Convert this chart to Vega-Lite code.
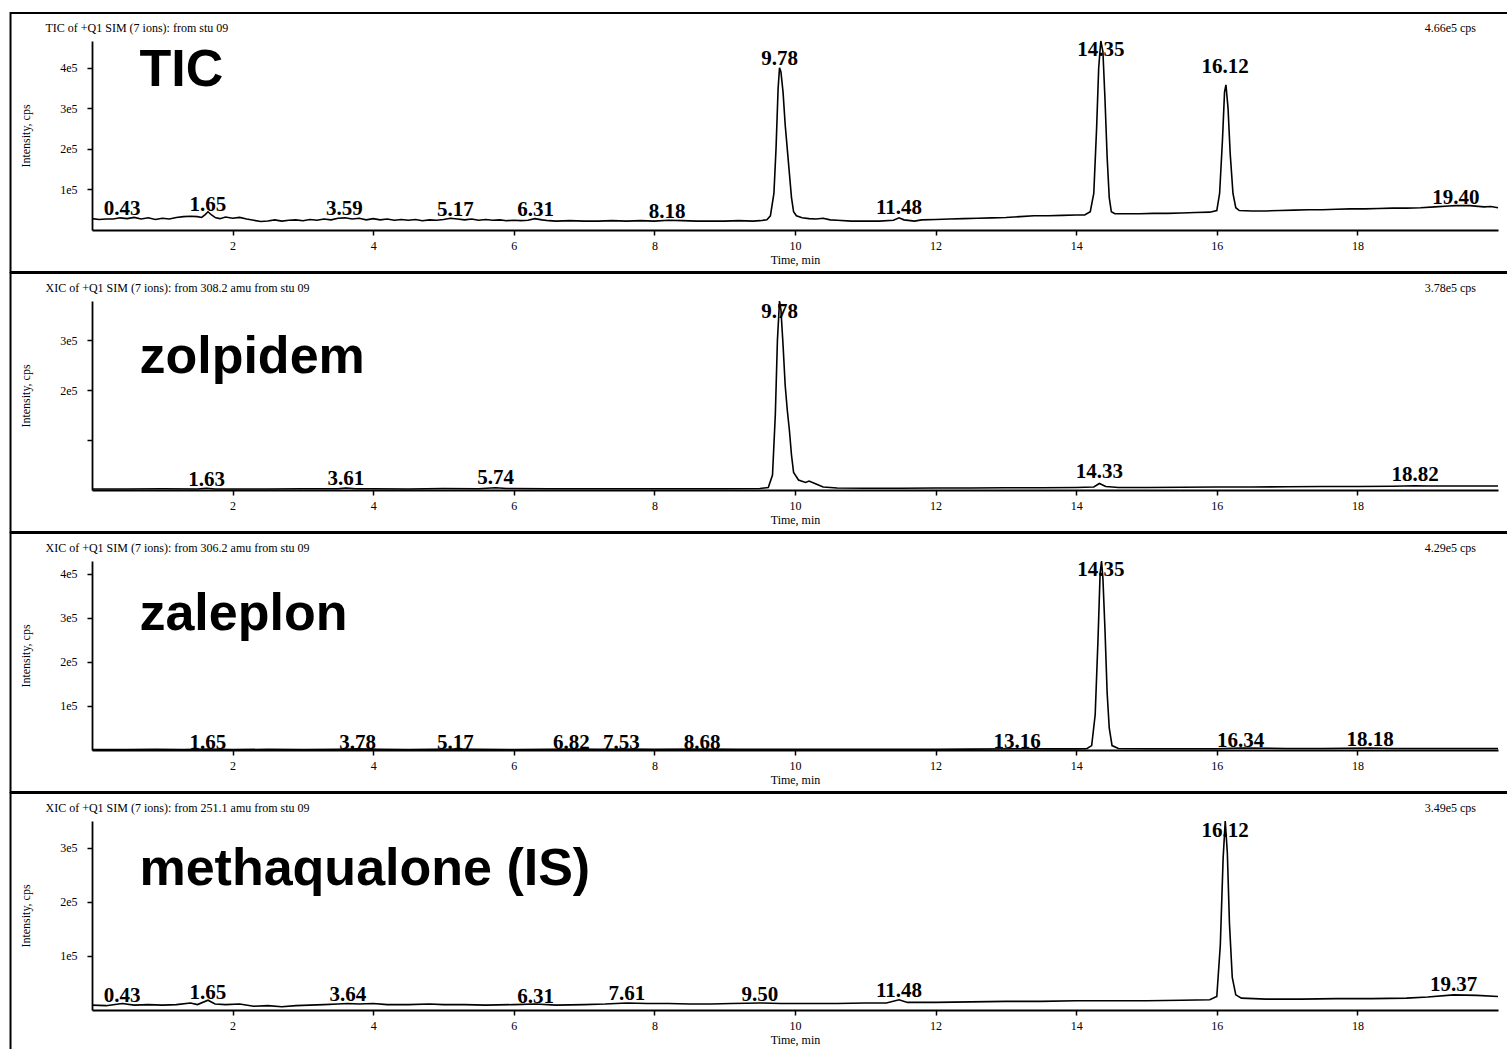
{
"$schema": "https://vega.github.io/schema/vega-lite/v6.json",
"padding": {"left": 9, "top": 12, "right": 0, "bottom": 0},
"background": "white",
"bounds": "flush",
"spacing": 71,
"config": {
  "view": {"stroke": null},
  "axis": {"domainColor": "black", "domainWidth": 1.8, "tickColor": "black", "tickWidth": 1.5, "tickSize": 5, "labelFont": "Liberation Serif", "labelFontSize": 12, "labelColor": "black", "titleFont": "Liberation Serif", "titleFontSize": 12, "titleFontWeight": "normal", "titleColor": "black", "grid": false},
  "axisX": {"labelPadding": 5, "titlePadding": 3},
  "axisY": {"labelPadding": 10, "titlePadding": 27}
},
"datasets": {
"trace": [
{"p":"TIC","t":0,"i":28000},{"p":"TIC","t":0.1,"i":26000},{"p":"TIC","t":0.2,"i":27000},{"p":"TIC","t":0.3,"i":27000},{"p":"TIC","t":0.4,"i":30000},{"p":"TIC","t":0.5,"i":28000},{"p":"TIC","t":0.6,"i":31000},{"p":"TIC","t":0.7,"i":27000},{"p":"TIC","t":0.8,"i":30000},{"p":"TIC","t":0.9,"i":26000},{"p":"TIC","t":1.0,"i":29000},{"p":"TIC","t":1.1,"i":27000},{"p":"TIC","t":1.2,"i":31000},{"p":"TIC","t":1.3,"i":33000},{"p":"TIC","t":1.4,"i":34000},{"p":"TIC","t":1.5,"i":33000},{"p":"TIC","t":1.56,"i":31000},{"p":"TIC","t":1.61,"i":38000},{"p":"TIC","t":1.65,"i":45000},{"p":"TIC","t":1.7,"i":37000},{"p":"TIC","t":1.76,"i":30000},{"p":"TIC","t":1.82,"i":28000},{"p":"TIC","t":1.9,"i":32000},{"p":"TIC","t":2.0,"i":29000},{"p":"TIC","t":2.1,"i":31000},{"p":"TIC","t":2.2,"i":27000},{"p":"TIC","t":2.3,"i":24000},{"p":"TIC","t":2.4,"i":21000},{"p":"TIC","t":2.5,"i":22000},{"p":"TIC","t":2.6,"i":25000},{"p":"TIC","t":2.7,"i":22000},{"p":"TIC","t":2.8,"i":24000},{"p":"TIC","t":2.9,"i":25000},{"p":"TIC","t":3.0,"i":23000},{"p":"TIC","t":3.1,"i":26000},{"p":"TIC","t":3.2,"i":24000},{"p":"TIC","t":3.3,"i":27000},{"p":"TIC","t":3.4,"i":25000},{"p":"TIC","t":3.5,"i":29000},{"p":"TIC","t":3.6,"i":30000},{"p":"TIC","t":3.7,"i":27000},{"p":"TIC","t":3.8,"i":29000},{"p":"TIC","t":3.9,"i":25000},{"p":"TIC","t":4.0,"i":28000},{"p":"TIC","t":4.1,"i":25000},{"p":"TIC","t":4.2,"i":27000},{"p":"TIC","t":4.3,"i":24000},{"p":"TIC","t":4.4,"i":26000},{"p":"TIC","t":4.5,"i":24000},{"p":"TIC","t":4.6,"i":26000},{"p":"TIC","t":4.7,"i":23000},{"p":"TIC","t":4.8,"i":25000},{"p":"TIC","t":4.9,"i":24000},{"p":"TIC","t":5.0,"i":26000},{"p":"TIC","t":5.1,"i":29000},{"p":"TIC","t":5.2,"i":27000},{"p":"TIC","t":5.3,"i":25000},{"p":"TIC","t":5.4,"i":27000},{"p":"TIC","t":5.5,"i":24000},{"p":"TIC","t":5.6,"i":26000},{"p":"TIC","t":5.7,"i":24000},{"p":"TIC","t":5.8,"i":25000},{"p":"TIC","t":5.9,"i":23000},{"p":"TIC","t":6.0,"i":24000},{"p":"TIC","t":6.1,"i":23000},{"p":"TIC","t":6.2,"i":24000},{"p":"TIC","t":6.3,"i":28000},{"p":"TIC","t":6.4,"i":25000},{"p":"TIC","t":6.5,"i":23000},{"p":"TIC","t":6.6,"i":22000},{"p":"TIC","t":6.8,"i":23000},{"p":"TIC","t":7.0,"i":22000},{"p":"TIC","t":7.2,"i":22000},{"p":"TIC","t":7.4,"i":23000},{"p":"TIC","t":7.6,"i":22000},{"p":"TIC","t":7.8,"i":23000},{"p":"TIC","t":8.0,"i":22000},{"p":"TIC","t":8.2,"i":24000},{"p":"TIC","t":8.4,"i":23000},{"p":"TIC","t":8.6,"i":22000},{"p":"TIC","t":8.8,"i":22000},{"p":"TIC","t":9.0,"i":22000},{"p":"TIC","t":9.2,"i":23000},{"p":"TIC","t":9.4,"i":22000},{"p":"TIC","t":9.5,"i":23000},{"p":"TIC","t":9.6,"i":25000},{"p":"TIC","t":9.65,"i":35000},{"p":"TIC","t":9.7,"i":90000},{"p":"TIC","t":9.73,"i":200000},{"p":"TIC","t":9.76,"i":350000},{"p":"TIC","t":9.78,"i":400000},{"p":"TIC","t":9.8,"i":390000},{"p":"TIC","t":9.83,"i":340000},{"p":"TIC","t":9.86,"i":260000},{"p":"TIC","t":9.89,"i":200000},{"p":"TIC","t":9.92,"i":140000},{"p":"TIC","t":9.95,"i":80000},{"p":"TIC","t":9.98,"i":45000},{"p":"TIC","t":10.02,"i":35000},{"p":"TIC","t":10.1,"i":30000},{"p":"TIC","t":10.2,"i":28000},{"p":"TIC","t":10.3,"i":27000},{"p":"TIC","t":10.4,"i":29000},{"p":"TIC","t":10.5,"i":25000},{"p":"TIC","t":10.6,"i":24000},{"p":"TIC","t":10.8,"i":22000},{"p":"TIC","t":11.0,"i":22000},{"p":"TIC","t":11.2,"i":22000},{"p":"TIC","t":11.4,"i":24000},{"p":"TIC","t":11.48,"i":30000},{"p":"TIC","t":11.55,"i":25000},{"p":"TIC","t":11.7,"i":22000},{"p":"TIC","t":11.8,"i":25000},{"p":"TIC","t":12.0,"i":26000},{"p":"TIC","t":12.2,"i":27000},{"p":"TIC","t":12.4,"i":28000},{"p":"TIC","t":12.6,"i":29000},{"p":"TIC","t":12.8,"i":30000},{"p":"TIC","t":13.0,"i":31000},{"p":"TIC","t":13.2,"i":33000},{"p":"TIC","t":13.4,"i":35000},{"p":"TIC","t":13.6,"i":35000},{"p":"TIC","t":13.8,"i":36000},{"p":"TIC","t":14.0,"i":37000},{"p":"TIC","t":14.12,"i":37000},{"p":"TIC","t":14.2,"i":45000},{"p":"TIC","t":14.25,"i":90000},{"p":"TIC","t":14.29,"i":250000},{"p":"TIC","t":14.32,"i":400000},{"p":"TIC","t":14.35,"i":466000},{"p":"TIC","t":14.38,"i":440000},{"p":"TIC","t":14.41,"i":320000},{"p":"TIC","t":14.44,"i":180000},{"p":"TIC","t":14.47,"i":80000},{"p":"TIC","t":14.5,"i":45000},{"p":"TIC","t":14.55,"i":40000},{"p":"TIC","t":14.7,"i":40000},{"p":"TIC","t":14.9,"i":40000},{"p":"TIC","t":15.1,"i":41000},{"p":"TIC","t":15.3,"i":41000},{"p":"TIC","t":15.5,"i":42000},{"p":"TIC","t":15.7,"i":43000},{"p":"TIC","t":15.9,"i":44000},{"p":"TIC","t":16.0,"i":48000},{"p":"TIC","t":16.04,"i":90000},{"p":"TIC","t":16.08,"i":220000},{"p":"TIC","t":16.11,"i":340000},{"p":"TIC","t":16.13,"i":358000},{"p":"TIC","t":16.16,"i":300000},{"p":"TIC","t":16.19,"i":190000},{"p":"TIC","t":16.23,"i":90000},{"p":"TIC","t":16.27,"i":55000},{"p":"TIC","t":16.32,"i":48000},{"p":"TIC","t":16.5,"i":47000},{"p":"TIC","t":16.7,"i":47000},{"p":"TIC","t":16.9,"i":48000},{"p":"TIC","t":17.1,"i":49000},{"p":"TIC","t":17.3,"i":50000},{"p":"TIC","t":17.5,"i":50000},{"p":"TIC","t":17.7,"i":51000},{"p":"TIC","t":17.9,"i":52000},{"p":"TIC","t":18.1,"i":52000},{"p":"TIC","t":18.3,"i":53000},{"p":"TIC","t":18.5,"i":54000},{"p":"TIC","t":18.7,"i":54000},{"p":"TIC","t":18.9,"i":55000},{"p":"TIC","t":19.1,"i":57000},{"p":"TIC","t":19.3,"i":59000},{"p":"TIC","t":19.4,"i":60000},{"p":"TIC","t":19.6,"i":60000},{"p":"TIC","t":19.8,"i":57000},{"p":"TIC","t":19.9,"i":58000},{"p":"TIC","t":20.0,"i":55000},
{"p":"ZOL","t":0,"i":2000},{"p":"ZOL","t":0.5,"i":2000},{"p":"ZOL","t":1.0,"i":2500},{"p":"ZOL","t":1.5,"i":2000},{"p":"ZOL","t":1.63,"i":3500},{"p":"ZOL","t":1.75,"i":2000},{"p":"ZOL","t":2.0,"i":2000},{"p":"ZOL","t":2.5,"i":2000},{"p":"ZOL","t":3.0,"i":2500},{"p":"ZOL","t":3.5,"i":2500},{"p":"ZOL","t":3.61,"i":4000},{"p":"ZOL","t":3.75,"i":2500},{"p":"ZOL","t":4.0,"i":2500},{"p":"ZOL","t":4.5,"i":2000},{"p":"ZOL","t":5.0,"i":3000},{"p":"ZOL","t":5.5,"i":2500},{"p":"ZOL","t":5.74,"i":4500},{"p":"ZOL","t":5.9,"i":3000},{"p":"ZOL","t":6.0,"i":3000},{"p":"ZOL","t":6.5,"i":2500},{"p":"ZOL","t":7.0,"i":2500},{"p":"ZOL","t":7.5,"i":2500},{"p":"ZOL","t":8.0,"i":2500},{"p":"ZOL","t":8.5,"i":2500},{"p":"ZOL","t":9.0,"i":2500},{"p":"ZOL","t":9.5,"i":3000},{"p":"ZOL","t":9.62,"i":5000},{"p":"ZOL","t":9.68,"i":30000},{"p":"ZOL","t":9.72,"i":150000},{"p":"ZOL","t":9.75,"i":300000},{"p":"ZOL","t":9.78,"i":378000},{"p":"ZOL","t":9.8,"i":360000},{"p":"ZOL","t":9.83,"i":290000},{"p":"ZOL","t":9.86,"i":210000},{"p":"ZOL","t":9.89,"i":160000},{"p":"ZOL","t":9.92,"i":120000},{"p":"ZOL","t":9.95,"i":70000},{"p":"ZOL","t":9.98,"i":35000},{"p":"ZOL","t":10.05,"i":20000},{"p":"ZOL","t":10.15,"i":15000},{"p":"ZOL","t":10.2,"i":18000},{"p":"ZOL","t":10.3,"i":12000},{"p":"ZOL","t":10.4,"i":6000},{"p":"ZOL","t":10.6,"i":4000},{"p":"ZOL","t":11.0,"i":3500},{"p":"ZOL","t":11.5,"i":3500},{"p":"ZOL","t":12.0,"i":4000},{"p":"ZOL","t":12.5,"i":4000},{"p":"ZOL","t":13.0,"i":4500},{"p":"ZOL","t":13.5,"i":4500},{"p":"ZOL","t":14.0,"i":5000},{"p":"ZOL","t":14.25,"i":6000},{"p":"ZOL","t":14.33,"i":13000},{"p":"ZOL","t":14.42,"i":7000},{"p":"ZOL","t":14.6,"i":5000},{"p":"ZOL","t":15.0,"i":5000},{"p":"ZOL","t":15.5,"i":5500},{"p":"ZOL","t":16.0,"i":6000},{"p":"ZOL","t":16.5,"i":6000},{"p":"ZOL","t":17.0,"i":6500},{"p":"ZOL","t":17.5,"i":7000},{"p":"ZOL","t":18.0,"i":7000},{"p":"ZOL","t":18.5,"i":7500},{"p":"ZOL","t":18.82,"i":8500},{"p":"ZOL","t":19.0,"i":8000},{"p":"ZOL","t":19.5,"i":8000},{"p":"ZOL","t":20.0,"i":8000},
{"p":"ZAL","t":0,"i":1000},{"p":"ZAL","t":0.5,"i":1000},{"p":"ZAL","t":0.9,"i":1500},{"p":"ZAL","t":1.3,"i":1000},{"p":"ZAL","t":1.65,"i":2000},{"p":"ZAL","t":2.0,"i":1000},{"p":"ZAL","t":2.5,"i":1500},{"p":"ZAL","t":3.0,"i":1000},{"p":"ZAL","t":3.5,"i":1500},{"p":"ZAL","t":3.78,"i":2500},{"p":"ZAL","t":4.1,"i":1500},{"p":"ZAL","t":4.5,"i":1000},{"p":"ZAL","t":5.17,"i":2000},{"p":"ZAL","t":5.5,"i":1500},{"p":"ZAL","t":6.0,"i":1000},{"p":"ZAL","t":6.5,"i":1500},{"p":"ZAL","t":6.82,"i":2000},{"p":"ZAL","t":7.2,"i":1500},{"p":"ZAL","t":7.53,"i":2000},{"p":"ZAL","t":8.0,"i":1500},{"p":"ZAL","t":8.68,"i":2000},{"p":"ZAL","t":9.2,"i":1500},{"p":"ZAL","t":9.8,"i":1500},{"p":"ZAL","t":10.5,"i":1500},{"p":"ZAL","t":11.0,"i":1500},{"p":"ZAL","t":11.5,"i":1500},{"p":"ZAL","t":12.0,"i":1500},{"p":"ZAL","t":12.5,"i":2000},{"p":"ZAL","t":13.16,"i":3000},{"p":"ZAL","t":13.6,"i":2500},{"p":"ZAL","t":14.0,"i":2500},{"p":"ZAL","t":14.15,"i":3000},{"p":"ZAL","t":14.22,"i":10000},{"p":"ZAL","t":14.27,"i":80000},{"p":"ZAL","t":14.31,"i":250000},{"p":"ZAL","t":14.34,"i":400000},{"p":"ZAL","t":14.36,"i":429000},{"p":"ZAL","t":14.38,"i":390000},{"p":"ZAL","t":14.41,"i":270000},{"p":"ZAL","t":14.44,"i":130000},{"p":"ZAL","t":14.47,"i":50000},{"p":"ZAL","t":14.51,"i":10000},{"p":"ZAL","t":14.6,"i":3500},{"p":"ZAL","t":15.0,"i":3000},{"p":"ZAL","t":15.5,"i":3000},{"p":"ZAL","t":16.0,"i":3000},{"p":"ZAL","t":16.34,"i":4500},{"p":"ZAL","t":17.0,"i":3500},{"p":"ZAL","t":17.5,"i":3500},{"p":"ZAL","t":18.18,"i":4500},{"p":"ZAL","t":18.5,"i":3500},{"p":"ZAL","t":19.0,"i":3500},{"p":"ZAL","t":19.5,"i":3500},{"p":"ZAL","t":20.0,"i":3500},
{"p":"MET","t":0,"i":9000},{"p":"MET","t":0.2,"i":8000},{"p":"MET","t":0.43,"i":12000},{"p":"MET","t":0.6,"i":9000},{"p":"MET","t":0.8,"i":10000},{"p":"MET","t":1.0,"i":9000},{"p":"MET","t":1.2,"i":10000},{"p":"MET","t":1.4,"i":13000},{"p":"MET","t":1.5,"i":10000},{"p":"MET","t":1.65,"i":18000},{"p":"MET","t":1.75,"i":11000},{"p":"MET","t":1.9,"i":10000},{"p":"MET","t":2.1,"i":11000},{"p":"MET","t":2.3,"i":7000},{"p":"MET","t":2.5,"i":8000},{"p":"MET","t":2.7,"i":6000},{"p":"MET","t":2.9,"i":8000},{"p":"MET","t":3.1,"i":9000},{"p":"MET","t":3.3,"i":10000},{"p":"MET","t":3.5,"i":11000},{"p":"MET","t":3.64,"i":12000},{"p":"MET","t":3.8,"i":11000},{"p":"MET","t":4.0,"i":12000},{"p":"MET","t":4.2,"i":10000},{"p":"MET","t":4.5,"i":10000},{"p":"MET","t":4.8,"i":11000},{"p":"MET","t":5.0,"i":10000},{"p":"MET","t":5.3,"i":10000},{"p":"MET","t":5.6,"i":9000},{"p":"MET","t":6.0,"i":10000},{"p":"MET","t":6.31,"i":11000},{"p":"MET","t":6.6,"i":9000},{"p":"MET","t":7.0,"i":10000},{"p":"MET","t":7.3,"i":11000},{"p":"MET","t":7.61,"i":13000},{"p":"MET","t":7.9,"i":12000},{"p":"MET","t":8.2,"i":12000},{"p":"MET","t":8.5,"i":11000},{"p":"MET","t":8.8,"i":11000},{"p":"MET","t":9.1,"i":12000},{"p":"MET","t":9.5,"i":13000},{"p":"MET","t":9.8,"i":12000},{"p":"MET","t":10.2,"i":12000},{"p":"MET","t":10.6,"i":12000},{"p":"MET","t":11.0,"i":13000},{"p":"MET","t":11.3,"i":13000},{"p":"MET","t":11.48,"i":19000},{"p":"MET","t":11.6,"i":14000},{"p":"MET","t":12.0,"i":14000},{"p":"MET","t":12.5,"i":15000},{"p":"MET","t":13.0,"i":16000},{"p":"MET","t":13.5,"i":16000},{"p":"MET","t":14.0,"i":17000},{"p":"MET","t":14.5,"i":17000},{"p":"MET","t":15.0,"i":17000},{"p":"MET","t":15.5,"i":18000},{"p":"MET","t":15.9,"i":19000},{"p":"MET","t":16.0,"i":25000},{"p":"MET","t":16.05,"i":120000},{"p":"MET","t":16.09,"i":280000},{"p":"MET","t":16.12,"i":349000},{"p":"MET","t":16.15,"i":290000},{"p":"MET","t":16.18,"i":160000},{"p":"MET","t":16.22,"i":60000},{"p":"MET","t":16.27,"i":28000},{"p":"MET","t":16.35,"i":22000},{"p":"MET","t":16.7,"i":20000},{"p":"MET","t":17.2,"i":20000},{"p":"MET","t":17.7,"i":21000},{"p":"MET","t":18.2,"i":21000},{"p":"MET","t":18.7,"i":22000},{"p":"MET","t":19.0,"i":24000},{"p":"MET","t":19.37,"i":28000},{"p":"MET","t":19.7,"i":27000},{"p":"MET","t":20.0,"i":25000}
],
"peaks": [
{"p":"TIC","t":0.43,"i":37000,"label":"0.43"},{"p":"TIC","t":1.65,"i":47000,"label":"1.65"},{"p":"TIC","t":3.59,"i":37000,"label":"3.59"},{"p":"TIC","t":5.17,"i":34500,"label":"5.17"},{"p":"TIC","t":6.31,"i":34500,"label":"6.31"},{"p":"TIC","t":8.18,"i":30000,"label":"8.18"},{"p":"TIC","t":9.78,"i":407000,"label":"9.78"},{"p":"TIC","t":11.48,"i":39000,"label":"11.48"},{"p":"TIC","t":14.35,"i":429000,"label":"14.35"},{"p":"TIC","t":16.12,"i":387000,"label":"16.12"},{"p":"TIC","t":19.40,"i":64000,"label":"19.40"},
{"p":"ZOL","t":1.63,"i":8000,"label":"1.63"},{"p":"ZOL","t":3.61,"i":10000,"label":"3.61"},{"p":"ZOL","t":5.74,"i":12000,"label":"5.74"},{"p":"ZOL","t":9.78,"i":344000,"label":"9.78"},{"p":"ZOL","t":14.33,"i":24000,"label":"14.33"},{"p":"ZOL","t":18.82,"i":18000,"label":"18.82"},
{"p":"ZAL","t":1.65,"i":1500,"label":"1.65"},{"p":"ZAL","t":3.78,"i":1500,"label":"3.78"},{"p":"ZAL","t":5.17,"i":1500,"label":"5.17"},{"p":"ZAL","t":6.82,"i":2500,"label":"6.82"},{"p":"ZAL","t":7.53,"i":1500,"label":"7.53"},{"p":"ZAL","t":8.68,"i":1500,"label":"8.68"},{"p":"ZAL","t":13.16,"i":5000,"label":"13.16"},{"p":"ZAL","t":14.35,"i":395000,"label":"14.35"},{"p":"ZAL","t":16.34,"i":7000,"label":"16.34"},{"p":"ZAL","t":18.18,"i":9000,"label":"18.18"},
{"p":"MET","t":0.43,"i":15000,"label":"0.43"},{"p":"MET","t":1.65,"i":21000,"label":"1.65"},{"p":"MET","t":3.64,"i":16000,"label":"3.64"},{"p":"MET","t":6.31,"i":13000,"label":"6.31"},{"p":"MET","t":7.61,"i":18000,"label":"7.61"},{"p":"MET","t":9.50,"i":16000,"label":"9.50"},{"p":"MET","t":11.48,"i":24000,"label":"11.48"},{"p":"MET","t":16.12,"i":320000,"label":"16.12"},{"p":"MET","t":19.37,"i":35000,"label":"19.37"}
]
},
"vconcat": [
{
 "width": 1406, "height": 189,
 "layer": [
  {"data": {"values": [{"p": "TIC"}]}, "mark": {"type": "rect", "fillOpacity": 0, "stroke": "black", "strokeWidth": 2},
   "encoding": {"x": {"datum": -1.159, "type": "quantitative", "scale": {"domain": [0, 20], "nice": false, "zero": false}}, "x2": {"datum": 20.2},
                "y": {"datum": -103556, "type": "quantitative", "scale": {"domain": [0, 466000], "nice": false}}, "y2": {"datum": 535026}}},
  {"data": {"name": "trace"}, "transform": [{"filter": "datum.p === 'TIC'"}], "mark": {"type": "line", "color": "black", "strokeWidth": 1.6},
   "encoding": {"x": {"field": "t", "type": "quantitative", "scale": {"domain": [0, 20], "nice": false, "zero": false}, "axis": {"values": [2,4,6,8,10,12,14,16,18], "format": "d", "title": "Time, min"}},
                "y": {"field": "i", "type": "quantitative", "scale": {"domain": [0, 466000], "nice": false}, "axis": {"values": [100000,200000,300000,400000], "labelExpr": "(datum.value/100000) + 'e5'", "title": "Intensity, cps"}}}},
  {"data": {"name": "peaks"}, "transform": [{"filter": "datum.p === 'TIC'"}], "mark": {"type": "text", "font": "Liberation Serif", "fontWeight": "bold", "fontSize": 21, "baseline": "alphabetic", "align": "center", "color": "black"},
   "encoding": {"x": {"field": "t", "type": "quantitative", "scale": {"domain": [0, 20], "nice": false, "zero": false}},
                "y": {"field": "i", "type": "quantitative", "scale": {"domain": [0, 466000], "nice": false}}, "text": {"field": "label"}}},
  {"data": {"values": [{"p": "TIC"}]}, "mark": {"type": "text", "text": "TIC", "font": "Liberation Sans", "fontWeight": "bold", "fontSize": 52, "align": "left", "baseline": "alphabetic", "color": "black"},
   "encoding": {"x": {"datum": 0.675, "type": "quantitative", "scale": {"domain": [0, 20], "nice": false, "zero": false}},
                "y": {"datum": 355000, "type": "quantitative", "scale": {"domain": [0, 466000], "nice": false}}}},
  {"data": {"values": [{"p": "TIC"}]}, "mark": {"type": "text", "text": "4.66e5 cps", "font": "Liberation Serif", "fontSize": 12, "align": "right", "baseline": "middle", "dx": -22, "dy": -13, "color": "black"},
   "encoding": {"x": {"datum": 20, "type": "quantitative", "scale": {"domain": [0, 20], "nice": false, "zero": false}},
                "y": {"datum": 466000, "type": "quantitative", "scale": {"domain": [0, 466000], "nice": false}}}},
  {"data": {"values": [{"p": "TIC"}]}, "mark": {"type": "text", "text": "TIC of +Q1 SIM (7 ions): from stu 09", "font": "Liberation Serif", "fontSize": 12, "align": "left", "baseline": "middle", "dx": -46.5, "dy": -13, "color": "black"},
   "encoding": {"x": {"datum": 0, "type": "quantitative", "scale": {"domain": [0, 20], "nice": false, "zero": false}},
                "y": {"datum": 466000, "type": "quantitative", "scale": {"domain": [0, 466000], "nice": false}}}}
 ]
},
{
 "width": 1406, "height": 189,
 "layer": [
  {"data": {"values": [{"p": "ZOL"}]}, "mark": {"type": "rect", "fillOpacity": 0, "stroke": "black", "strokeWidth": 2},
   "encoding": {"x": {"datum": -1.159, "type": "quantitative", "scale": {"domain": [0, 20], "nice": false, "zero": false}}, "x2": {"datum": 20.2},
                "y": {"datum": -84000, "type": "quantitative", "scale": {"domain": [0, 378000], "nice": false}}, "y2": {"datum": 433978}}},
  {"data": {"name": "trace"}, "transform": [{"filter": "datum.p === 'ZOL'"}], "mark": {"type": "line", "color": "black", "strokeWidth": 1.6},
   "encoding": {"x": {"field": "t", "type": "quantitative", "scale": {"domain": [0, 20], "nice": false, "zero": false}, "axis": {"values": [2,4,6,8,10,12,14,16,18], "format": "d", "title": "Time, min"}},
                "y": {"field": "i", "type": "quantitative", "scale": {"domain": [0, 378000], "nice": false}, "axis": {"values": [100000,200000,300000], "labelExpr": "datum.value == 100000 ? '' : (datum.value/100000) + 'e5'", "title": "Intensity, cps"}}}},
  {"data": {"name": "peaks"}, "transform": [{"filter": "datum.p === 'ZOL'"}], "mark": {"type": "text", "font": "Liberation Serif", "fontWeight": "bold", "fontSize": 21, "baseline": "alphabetic", "align": "center", "color": "black"},
   "encoding": {"x": {"field": "t", "type": "quantitative", "scale": {"domain": [0, 20], "nice": false, "zero": false}},
                "y": {"field": "i", "type": "quantitative", "scale": {"domain": [0, 378000], "nice": false}}, "text": {"field": "label"}}},
  {"data": {"values": [{"p": "ZOL"}]}, "mark": {"type": "text", "text": "zolpidem", "font": "Liberation Sans", "fontWeight": "bold", "fontSize": 52, "align": "left", "baseline": "alphabetic", "color": "black"},
   "encoding": {"x": {"datum": 0.675, "type": "quantitative", "scale": {"domain": [0, 20], "nice": false, "zero": false}},
                "y": {"datum": 234000, "type": "quantitative", "scale": {"domain": [0, 378000], "nice": false}}}},
  {"data": {"values": [{"p": "ZOL"}]}, "mark": {"type": "text", "text": "3.78e5 cps", "font": "Liberation Serif", "fontSize": 12, "align": "right", "baseline": "middle", "dx": -22, "dy": -13, "color": "black"},
   "encoding": {"x": {"datum": 20, "type": "quantitative", "scale": {"domain": [0, 20], "nice": false, "zero": false}},
                "y": {"datum": 378000, "type": "quantitative", "scale": {"domain": [0, 378000], "nice": false}}}},
  {"data": {"values": [{"p": "ZOL"}]}, "mark": {"type": "text", "text": "XIC of +Q1 SIM (7 ions): from 308.2 amu from stu 09", "font": "Liberation Serif", "fontSize": 12, "align": "left", "baseline": "middle", "dx": -46.5, "dy": -13, "color": "black"},
   "encoding": {"x": {"datum": 0, "type": "quantitative", "scale": {"domain": [0, 20], "nice": false, "zero": false}},
                "y": {"datum": 378000, "type": "quantitative", "scale": {"domain": [0, 378000], "nice": false}}}}
 ]
},
{
 "width": 1406, "height": 189,
 "layer": [
  {"data": {"values": [{"p": "ZAL"}]}, "mark": {"type": "rect", "fillOpacity": 0, "stroke": "black", "strokeWidth": 2},
   "encoding": {"x": {"datum": -1.159, "type": "quantitative", "scale": {"domain": [0, 20], "nice": false, "zero": false}}, "x2": {"datum": 20.2},
                "y": {"datum": -95333, "type": "quantitative", "scale": {"domain": [0, 429000], "nice": false}}, "y2": {"datum": 492556}}},
  {"data": {"name": "trace"}, "transform": [{"filter": "datum.p === 'ZAL'"}], "mark": {"type": "line", "color": "black", "strokeWidth": 1.6},
   "encoding": {"x": {"field": "t", "type": "quantitative", "scale": {"domain": [0, 20], "nice": false, "zero": false}, "axis": {"values": [2,4,6,8,10,12,14,16,18], "format": "d", "title": "Time, min"}},
                "y": {"field": "i", "type": "quantitative", "scale": {"domain": [0, 429000], "nice": false}, "axis": {"values": [100000,200000,300000,400000], "labelExpr": "(datum.value/100000) + 'e5'", "title": "Intensity, cps"}}}},
  {"data": {"name": "peaks"}, "transform": [{"filter": "datum.p === 'ZAL'"}], "mark": {"type": "text", "font": "Liberation Serif", "fontWeight": "bold", "fontSize": 21, "baseline": "alphabetic", "align": "center", "color": "black"},
   "encoding": {"x": {"field": "t", "type": "quantitative", "scale": {"domain": [0, 20], "nice": false, "zero": false}},
                "y": {"field": "i", "type": "quantitative", "scale": {"domain": [0, 429000], "nice": false}}, "text": {"field": "label"}}},
  {"data": {"values": [{"p": "ZAL"}]}, "mark": {"type": "text", "text": "zaleplon", "font": "Liberation Sans", "fontWeight": "bold", "fontSize": 52, "align": "left", "baseline": "alphabetic", "color": "black"},
   "encoding": {"x": {"datum": 0.675, "type": "quantitative", "scale": {"domain": [0, 20], "nice": false, "zero": false}},
                "y": {"datum": 272400, "type": "quantitative", "scale": {"domain": [0, 429000], "nice": false}}}},
  {"data": {"values": [{"p": "ZAL"}]}, "mark": {"type": "text", "text": "4.29e5 cps", "font": "Liberation Serif", "fontSize": 12, "align": "right", "baseline": "middle", "dx": -22, "dy": -13, "color": "black"},
   "encoding": {"x": {"datum": 20, "type": "quantitative", "scale": {"domain": [0, 20], "nice": false, "zero": false}},
                "y": {"datum": 429000, "type": "quantitative", "scale": {"domain": [0, 429000], "nice": false}}}},
  {"data": {"values": [{"p": "ZAL"}]}, "mark": {"type": "text", "text": "XIC of +Q1 SIM (7 ions): from 306.2 amu from stu 09", "font": "Liberation Serif", "fontSize": 12, "align": "left", "baseline": "middle", "dx": -46.5, "dy": -13, "color": "black"},
   "encoding": {"x": {"datum": 0, "type": "quantitative", "scale": {"domain": [0, 20], "nice": false, "zero": false}},
                "y": {"datum": 429000, "type": "quantitative", "scale": {"domain": [0, 429000], "nice": false}}}}
 ]
},
{
 "width": 1406, "height": 189,
 "layer": [
  {"data": {"values": [{"p": "MET"}]}, "mark": {"type": "rect", "fillOpacity": 0, "stroke": "black", "strokeWidth": 2},
   "encoding": {"x": {"datum": -1.159, "type": "quantitative", "scale": {"domain": [0, 20], "nice": false, "zero": false}}, "x2": {"datum": 20.2},
                "y": {"datum": -77556, "type": "quantitative", "scale": {"domain": [0, 349000], "nice": false}}, "y2": {"datum": 400693}}},
  {"data": {"name": "trace"}, "transform": [{"filter": "datum.p === 'MET'"}], "mark": {"type": "line", "color": "black", "strokeWidth": 1.6},
   "encoding": {"x": {"field": "t", "type": "quantitative", "scale": {"domain": [0, 20], "nice": false, "zero": false}, "axis": {"values": [2,4,6,8,10,12,14,16,18], "format": "d", "title": "Time, min"}},
                "y": {"field": "i", "type": "quantitative", "scale": {"domain": [0, 349000], "nice": false}, "axis": {"values": [100000,200000,300000], "labelExpr": "(datum.value/100000) + 'e5'", "title": "Intensity, cps"}}}},
  {"data": {"name": "peaks"}, "transform": [{"filter": "datum.p === 'MET'"}], "mark": {"type": "text", "font": "Liberation Serif", "fontWeight": "bold", "fontSize": 21, "baseline": "alphabetic", "align": "center", "color": "black"},
   "encoding": {"x": {"field": "t", "type": "quantitative", "scale": {"domain": [0, 20], "nice": false, "zero": false}},
                "y": {"field": "i", "type": "quantitative", "scale": {"domain": [0, 349000], "nice": false}}, "text": {"field": "label"}}},
  {"data": {"values": [{"p": "MET"}]}, "mark": {"type": "text", "text": "methaqualone (IS)", "font": "Liberation Sans", "fontWeight": "bold", "fontSize": 52, "align": "left", "baseline": "alphabetic", "color": "black"},
   "encoding": {"x": {"datum": 0.675, "type": "quantitative", "scale": {"domain": [0, 20], "nice": false, "zero": false}},
                "y": {"datum": 230800, "type": "quantitative", "scale": {"domain": [0, 349000], "nice": false}}}},
  {"data": {"values": [{"p": "MET"}]}, "mark": {"type": "text", "text": "3.49e5 cps", "font": "Liberation Serif", "fontSize": 12, "align": "right", "baseline": "middle", "dx": -22, "dy": -13, "color": "black"},
   "encoding": {"x": {"datum": 20, "type": "quantitative", "scale": {"domain": [0, 20], "nice": false, "zero": false}},
                "y": {"datum": 349000, "type": "quantitative", "scale": {"domain": [0, 349000], "nice": false}}}},
  {"data": {"values": [{"p": "MET"}]}, "mark": {"type": "text", "text": "XIC of +Q1 SIM (7 ions): from 251.1 amu from stu 09", "font": "Liberation Serif", "fontSize": 12, "align": "left", "baseline": "middle", "dx": -46.5, "dy": -13, "color": "black"},
   "encoding": {"x": {"datum": 0, "type": "quantitative", "scale": {"domain": [0, 20], "nice": false, "zero": false}},
                "y": {"datum": 349000, "type": "quantitative", "scale": {"domain": [0, 349000], "nice": false}}}}
 ]
}
]
}
